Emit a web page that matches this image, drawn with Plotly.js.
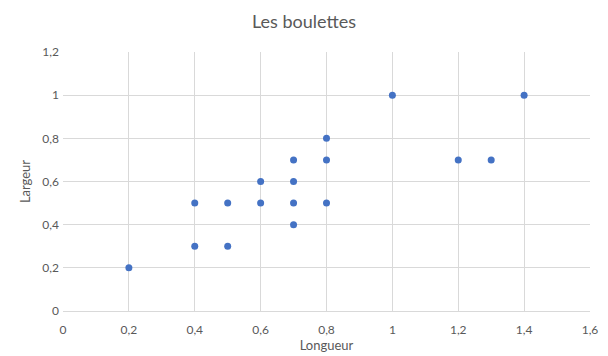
<!DOCTYPE html>
<html><head><meta charset="utf-8">
<script src="https://cdn.plot.ly/plotly-3.0.1.min.js"></script>
<style>html,body{margin:0;padding:0;background:#fff}#c{width:608px;height:356px}</style>
</head><body><div id="c"></div>
<script>
const longueur = [0.2, 0.4, 0.4, 0.5, 0.5, 0.6, 0.6, 0.7, 0.7, 0.7, 0.7, 0.8, 0.8, 0.8, 1.0, 1.2, 1.3, 1.4];
const largeur  = [0.2, 0.3, 0.5, 0.3, 0.5, 0.5, 0.6, 0.4, 0.5, 0.6, 0.7, 0.5, 0.7, 0.8, 1.0, 0.7, 0.7, 1.0];
const xTicks = [0, 0.2, 0.4, 0.6, 0.8, 1, 1.2, 1.4, 1.6];
const xTickText = ['0', '0,2', '0,4', '0,6', '0,8', '1', '1,2', '1,4', '1,6'];
const yTicks = [0, 0.2, 0.4, 0.6, 0.8, 1, 1.2];
const yTickText = ['0', '0,2', '0,4', '0,6', '0,8', '1', '1,2'];

const font = 'Lato, "Open Sans", sans-serif';
Plotly.newPlot('c', [{
  x: longueur, y: largeur, type: 'scatter', mode: 'markers',
  marker: {color: '#4472C4', size: 7}
}], {
  width: 608, height: 356,
  margin: {l: 63, r: 18, t: 52, b: 45},
  paper_bgcolor: '#fff', plot_bgcolor: '#fff',
  showlegend: false,
  font: {family: font, color: '#595959', size: 12},
  title: {text: 'Les boulettes', x: 0.5, xanchor: 'center', y: 0.938, yanchor: 'middle',
          font: {family: font, size: 18, color: '#595959'}},
  xaxis: {range: [0, 1.6], tickvals: xTicks, ticktext: xTickText, showgrid: true,
          gridcolor: '#d9d9d9', zeroline: false, showline: true, linecolor: '#d9d9d9',
          ticks: '', ticklabelstandoff: 8, tickfont: {size: 12},
          title: {text: 'Longueur', standoff: 4, font: {size: 13}}},
  yaxis: {range: [0, 1.2], tickvals: yTicks, ticktext: yTickText, showgrid: true,
          gridcolor: '#d9d9d9', zeroline: false, showline: false,
          ticks: '', ticklabelstandoff: 3, tickfont: {size: 12},
          title: {text: 'Largeur', standoff: 8, font: {size: 13}}}
}, {displayModeBar: false, staticPlot: true});
</script></body></html>
